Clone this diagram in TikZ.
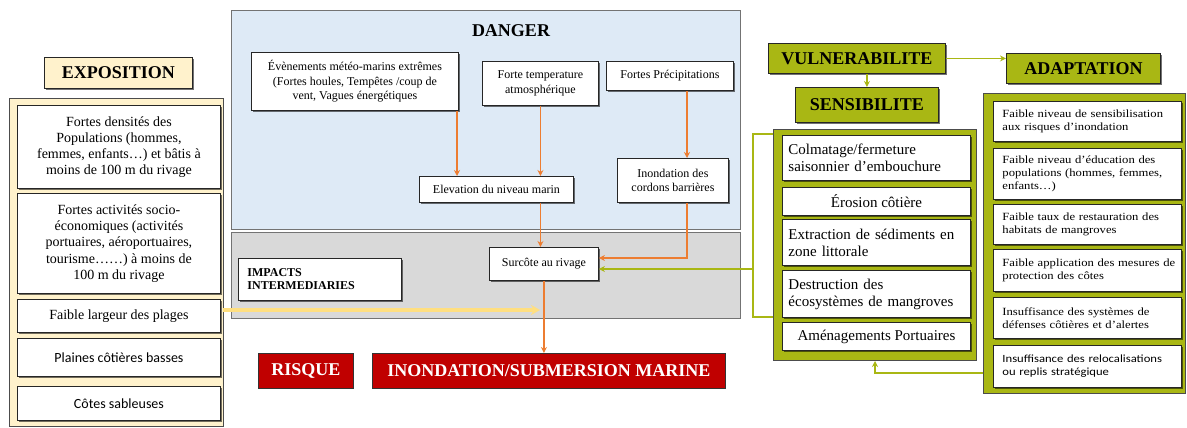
\documentclass[tikz,border=0pt]{standalone}
\usepackage{fontspec}
\setmainfont{Liberation Serif}
\newfontfamily\calfont{Carlito}
\newfontfamily\widefont[FakeStretch=1.15]{Liberation Serif}
\newfontfamily\widecal[FakeStretch=1.15]{Carlito}
\usetikzlibrary{arrows.meta,calc,shadows}
\definecolor{expoY}{HTML}{FFF2CC}
\definecolor{arrY}{HTML}{FFDF80}
\definecolor{dangB}{HTML}{DEEAF6}
\definecolor{impG}{HTML}{D9D9D9}
\definecolor{orgA}{HTML}{ED7D31}
\definecolor{olv}{HTML}{A9B714}
\definecolor{redR}{HTML}{C00000}
\begin{document}
\begin{tikzpicture}[x=1pt,y=-1pt,
  box/.style={draw=black!85, fill=white, line width=0.9pt, anchor=north west, inner sep=2pt,
     drop shadow={shadow xshift=1.3pt, shadow yshift=-1.3pt, fill=black, opacity=0.55}},
  cont/.style={draw=black!70, line width=0.8pt, anchor=north west, inner sep=0pt},
  ttl/.style={box, font=\bfseries\fontsize{18}{20}\selectfont},
  redbox/.style={draw=black!80, fill=redR, text=white, line width=0.8pt, anchor=north west, font=\bfseries\fontsize{18}{20}\selectfont},
  expof/.style={font=\fontsize{14}{16.2}\selectfont, align=center, minimum width=203pt},
  dangf/.style={font=\fontsize{12}{14.5}\selectfont, align=center},
  sensf/.style={font=\fontsize{15}{17}\selectfont, minimum width=188pt},
  adaf/.style={font=\widefont\fontsize{11}{13}\selectfont, align=left, text width=182pt, inner xsep=3pt},
  oarr/.style={draw=orgA, line width=1.6pt, -{Stealth[length=6pt,width=6pt]}},
  garr/.style={draw=olv, line width=1.6pt, -{Stealth[length=6pt,width=6pt]}},
  gline/.style={draw=olv, line width=1.6pt},
  yarr/.style={draw=arrY, line width=3.2pt, -{Stealth[length=9pt,width=10pt]}}
]
\useasboundingbox (0,0) rectangle (1187,428);

% ---------------- EXPOSITION ----------------
\node[ttl, fill=expoY, minimum width=148pt, minimum height=31pt] (expo) at (44,57) {EXPOSITION};
\node[cont, fill=expoY, minimum width=214pt, minimum height=328pt] (expoC) at (9,98) {};
\node[box, expof, minimum height=83pt] (e1) at (17,105) {Fortes densités des\\Populations (hommes,\\femmes, enfants…) et bâtis à\\moins de 100 m du rivage};
\node[box, expof, minimum height=100pt] (e2) at (17,193) {Fortes activités socio-\\économiques (activités\\portuaires, aéroportuaires,\\tourisme……) à moins de\\100 m du rivage};
\node[box, expof, minimum height=33pt] (e3) at (17,299) {Faible largeur des plages};
\node[box, expof, minimum height=38pt, font=\calfont\fontsize{14}{17}\selectfont] (e4) at (17,338) {Plaines côtières basses};
\node[box, expof, minimum height=34pt, font=\calfont\fontsize{14}{17}\selectfont] (e5) at (17,386) {Côtes sableuses};

% ---------------- DANGER ----------------
\node[cont, draw=black!55, fill=dangB, minimum width=509pt, minimum height=219pt] (dangC) at (231,10) {};
\node[cont, draw=black!55, fill=impG, minimum width=509pt, minimum height=86pt] (impC) at (231,232) {};
\node[font=\bfseries\fontsize{18}{20}\selectfont] (dt) at (511,31) {DANGER};
\node[box, dangf, minimum width=207pt, minimum height=58pt] (d1) at (251,52) {Évènements météo-marins extrêmes\\(Fortes houles, Tempêtes /coup de\\vent, Vagues énergétiques};
\node[box, dangf, minimum width=116pt, minimum height=44pt] (d2) at (482,61) {Forte temperature\\atmosphérique};
\node[box, dangf, minimum width=127pt, minimum height=29pt] (d3) at (606,61) {Fortes Précipitations};
\node[box, dangf, minimum width=154pt, minimum height=26pt] (elev) at (419,176) {Elevation du niveau marin};
\node[box, dangf, minimum width=111pt, minimum height=44pt] (d5) at (617,158) {Inondation des\\cordons barrières};
\node[box, dangf, minimum width=109pt, minimum height=33pt] (sur) at (489,247) {Surcôte au rivage};
\node[box, align=left, text width=145pt, inner xsep=9pt, minimum height=42pt, font=\bfseries\fontsize{12}{13}\selectfont] (imp) at (238,258) {IMPACTS\\INTERMEDIARIES};

\node[redbox, minimum width=95pt, minimum height=35pt] (risk) at (258,353) {RISQUE};
\node[redbox, minimum width=353pt, minimum height=35pt] (inon) at (372,353) {INONDATION/SUBMERSION MARINE};

% orange arrows
\coordinate (o1) at (457,0);
\coordinate (o2) at (687,0);
\coordinate (o3) at (0,258);
\draw[oarr] (o1 |- d1.south) -- (o1 |- elev.north);
\draw[oarr] (d2.south) -- (d2.south |- elev.north);
\draw[oarr] (o2 |- d3.south) -- (o2 |- d5.north);
\draw[oarr] (d2.south |- elev.south) -- (d2.south |- sur.north);
\draw[oarr] (o2 |- d5.south) -- (o2 |- o3) -- (sur.east |- o3);
\draw[oarr, line width=2.8pt] (sur.south) -- (sur.south |- inon.north);

% yellow arrow
\coordinate (ys) at (223,310);
\coordinate (ye) at (540,310);
\draw[yarr] (ys) -- (ye);

% ---------------- VULNERABILITE ----------------
\node[ttl, fill=olv, minimum width=177pt, minimum height=30pt] (vul) at (768,43) {VULNERABILITE};
\node[ttl, fill=olv, minimum width=154pt, minimum height=30pt] (adapt) at (1006,53) {ADAPTATION};
\node[ttl, fill=olv, minimum width=143pt, minimum height=35pt] (sens) at (795,87) {SENSIBILITE};
\draw[garr] (vul.east) -- (vul.east -| adapt.west);
\draw[garr] (sens.north |- vul.south) -- (sens.north);

% Sensibilite container
\node[cont, fill=olv, line width=1pt, minimum width=203pt, minimum height=231pt] (sc) at (773,129) {};
\node[box, sensf, align=left, text width=176pt, inner xsep=6pt, minimum height=45pt] (s1) at (782,135) {Colmatage/fermeture\\saisonnier d’embouchure};
\node[box, sensf, align=center, minimum height=28pt] (s2) at (782,187) {Érosion côtière};
\node[box, sensf, align=left, text width=176pt, inner xsep=6pt, minimum height=46pt] (s3) at (782,219) {Extraction de sédiments en\\zone littorale};
\node[box, sensf, align=left, text width=176pt, inner xsep=6pt, minimum height=47pt] (s4) at (782,270) {Destruction des\\écosystèmes de mangroves};
\node[box, sensf, align=center, minimum height=28pt] (s5) at (782,322) {Aménagements Portuaires};

% Adaptation container
\node[cont, fill=olv, line width=1pt, minimum width=202pt, minimum height=300pt] (ac) at (983,93) {};
\node[box, adaf, minimum height=40pt] (a1) at (993,101) {\hspace*{6pt}Faible niveau de sensibilisation\\\hspace*{6pt}aux risques d’inondation};
\node[box, adaf, minimum height=51pt] (a2) at (993,148) {\hspace*{6pt}Faible niveau d’éducation des\\\hspace*{6pt}populations (hommes, femmes,\\\hspace*{6pt}enfants…)};
\node[box, adaf, minimum height=40pt] (a3) at (993,204) {\hspace*{6pt}Faible taux de restauration des\\\hspace*{6pt}habitats de mangroves};
\node[box, adaf, minimum height=42pt] (a4) at (993,249) {\hspace*{6pt}Faible application des mesures de\\\hspace*{6pt}protection des côtes};
\node[box, adaf, minimum height=41pt] (a5) at (993,297) {\hspace*{6pt}Insuffisance des systèmes de\\\hspace*{6pt}défenses côtières et d’alertes};
\node[box, adaf, minimum height=42pt, font=\widecal\fontsize{11}{13}\selectfont] (a6) at (993,345) {\hspace*{6pt}Insuffisance des relocalisations\\\hspace*{6pt}ou replis stratégique};

% green connectors
\coordinate (bt) at (753,134);
\coordinate (bb) at (753,317);
\coordinate (ga) at (753,269);
\draw[gline] (sc.west |- bt) -- (bt) -- (bb) -- (sc.west |- bb);
\draw[garr] (ga) -- (ga -| sur.east);
\coordinate (gb) at (875,373);
\draw[garr] (ac.west |- gb) -- (gb) -- (gb |- sc.south);
\end{tikzpicture}
\end{document}
